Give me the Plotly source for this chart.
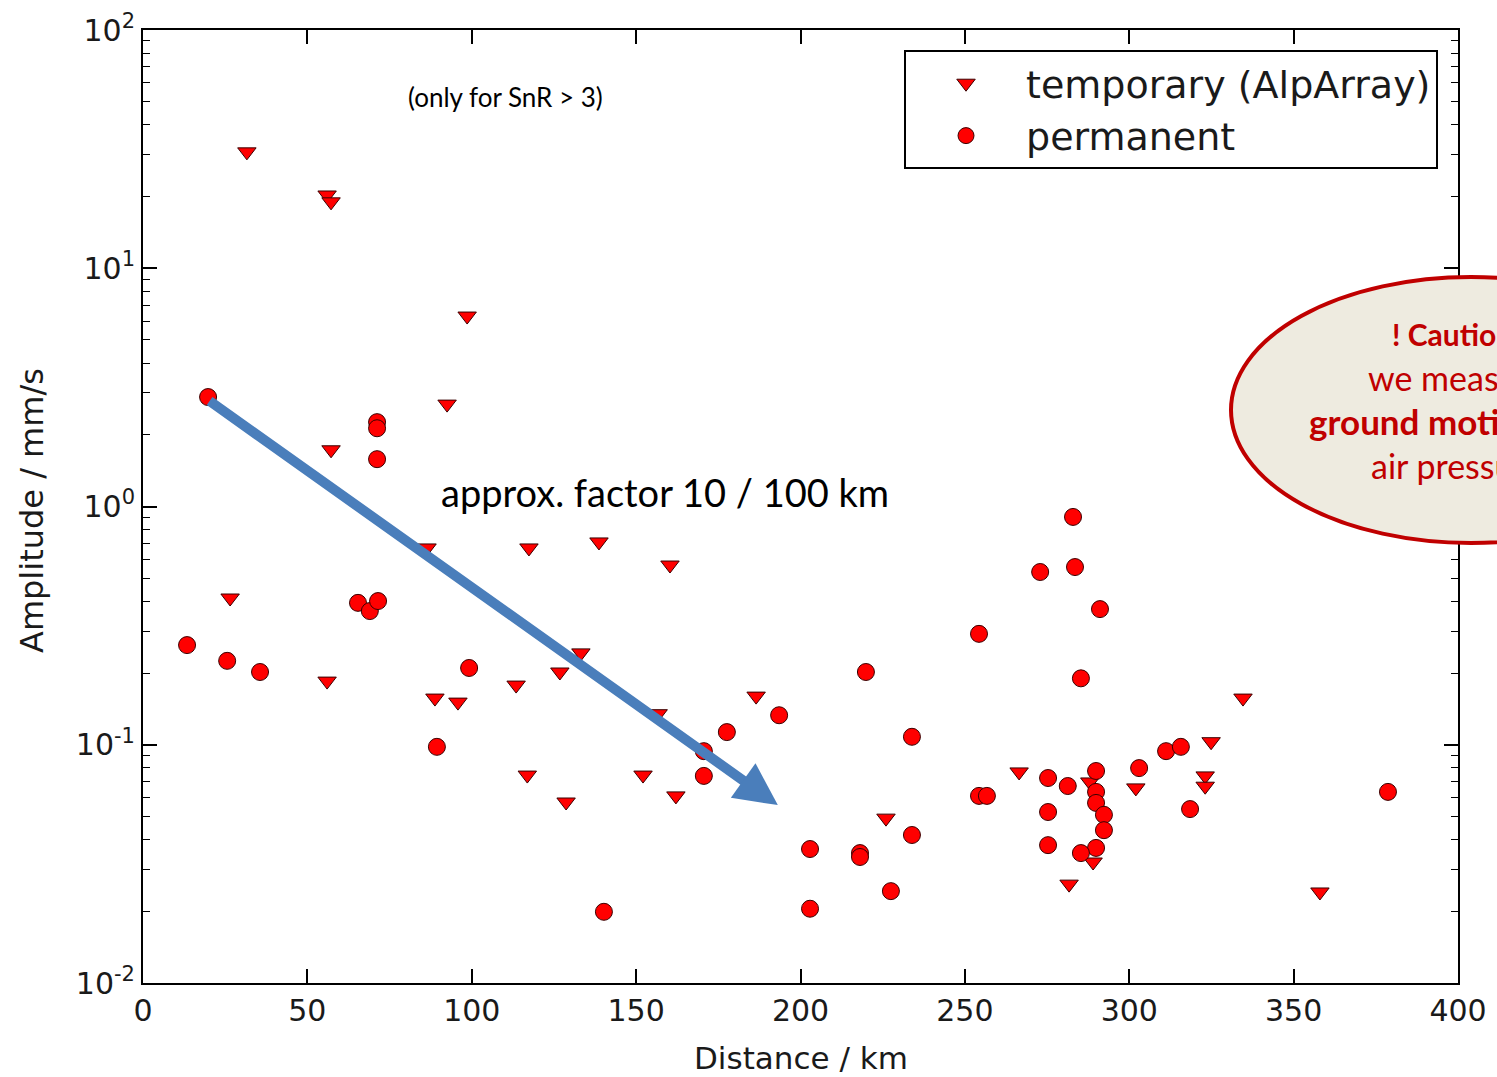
import plotly.graph_objects as go
import math

# temporary (AlpArray) stations: distance [km], amplitude [mm/s]
temp_dist = [31.6, 56.0, 57.2, 98.6, 92.5, 57.2, 86.4, 117.4, 138.7, 160.3,
             26.5, 56.0, 133.2, 126.8, 113.5, 88.8, 95.8, 186.5, 156.7, 116.9,
             128.7, 152.1, 162.1, 226.0, 266.5, 334.6, 324.9, 323.1, 323.1, 302.0,
             281.7, 358.0, 288.0, 289.0]
temp_amp = [30.8, 20.3, 19.0, 6.3, 2.69, 1.73, 0.67, 0.67, 0.71, 0.568,
            0.413, 0.185, 0.243, 0.202, 0.178, 0.157, 0.151, 0.160, 0.135, 0.0746,
            0.0575, 0.0746, 0.061, 0.0492, 0.0769, 0.157, 0.103, 0.074, 0.067, 0.0659,
            0.026, 0.0241, 0.0698, 0.0322]

# permanent stations
perm_dist = [19.8, 71.2, 71.2, 71.2, 13.4, 25.6, 35.6, 65.4, 69.0, 71.5,
             99.2, 89.4, 140.2, 170.6, 170.6, 177.6, 193.5, 202.9, 202.9, 219.9,
             218.1, 218.1, 227.5, 233.9, 233.9, 254.3, 254.3, 256.7, 272.9, 282.9,
             283.5, 291.1, 285.3, 275.3, 281.3, 289.9, 289.9, 289.9, 292.3, 292.3,
             275.3, 275.3, 289.9, 285.3, 303.0, 311.2, 315.7, 318.5, 378.7]
perm_amp = [2.88, 2.26, 2.13, 1.58, 0.262, 0.225, 0.202, 0.394, 0.364, 0.401,
            0.210, 0.098, 0.0199, 0.094, 0.074, 0.113, 0.133, 0.0365, 0.0205, 0.202,
            0.0351, 0.0338, 0.0243, 0.108, 0.0418, 0.292, 0.061, 0.061, 0.531, 0.904,
            0.557, 0.371, 0.190, 0.0725, 0.0671, 0.0776, 0.0634, 0.057, 0.0508, 0.0438,
            0.0522, 0.0379, 0.0369, 0.0351, 0.0798, 0.094, 0.098, 0.0537, 0.0634]

# trend arrow (start -> tip)
arrow_dist = [19.8, 193.1]
arrow_amp = [2.80, 0.0558]

x_ticks = [0, 50, 100, 150, 200, 250, 300, 350, 400]
y_ticks = [0.01, 0.1, 1, 10, 100]
y_ticktext = ["10<sup>-2</sup>", "10<sup>-1</sup>", "10<sup>0</sup>", "10<sup>1</sup>", "10<sup>2</sup>"]
y_minor = [m * 10 ** e for e in range(-2, 2) for m in range(2, 10)]

TICKFONT = dict(family="DejaVu Sans", size=30, color="#1a1a1a")

fig = go.Figure()
fig.add_trace(go.Scatter(
    x=temp_dist, y=temp_amp, mode="markers", name="temporary (AlpArray)",
    marker=dict(symbol="triangle-down", size=16, color="#ff0000",
                line=dict(color="#3a0000", width=1)),
))
fig.add_trace(go.Scatter(
    x=perm_dist, y=perm_amp, mode="markers", name="permanent",
    marker=dict(symbol="circle", size=17, color="#ff0000",
                line=dict(color="#3a0000", width=1)),
))

fig.add_annotation(
    x=arrow_dist[1], y=math.log10(arrow_amp[1]), xref="x", yref="y",
    ax=arrow_dist[0], ay=math.log10(arrow_amp[0]), axref="x", ayref="y",
    text="", showarrow=True, arrowhead=2, arrowsize=0.85, arrowwidth=10,
    arrowcolor="#4a7ebb",
)

def px2paper(px, py):
    return (px - 143) / 1315, (983 - py) / 953

ax_x, ax_y = px2paper(665, 492)
fig.add_annotation(
    x=ax_x, y=ax_y, xref="paper", yref="paper", showarrow=False,
    xanchor="center", yanchor="middle",
    text="approx. factor 10 / 100 km",
    font=dict(family="Lato", size=38, color="#000000"),
)
sn_x, sn_y = px2paper(505, 97)
fig.add_annotation(
    x=sn_x, y=sn_y, xref="paper", yref="paper", showarrow=False,
    xanchor="center", yanchor="middle",
    text="(only for SnR > 3)",
    font=dict(family="Lato", size=26, color="#000000"),
)

# axis titles
xt_x, xt_y = px2paper(801, 1058)
fig.add_annotation(x=xt_x, y=xt_y, xref="paper", yref="paper", showarrow=False,
                   xanchor="center", yanchor="middle", text="Distance / km",
                   font=dict(family="DejaVu Sans", size=31, color="#1a1a1a"))
yt_x, yt_y = px2paper(32, 511)
fig.add_annotation(x=yt_x, y=yt_y, xref="paper", yref="paper", showarrow=False,
                   xanchor="center", yanchor="middle", textangle=-90,
                   text="Amplitude / mm/s",
                   font=dict(family="DejaVu Sans", size=32, color="#1a1a1a"))

# caution bubble (runs off the right edge)
x0, y0 = px2paper(1231, 543)
x1, y1 = px2paper(1711, 277)
fig.add_shape(type="circle", xref="paper", yref="paper", x0=x0, y0=y0, x1=x1, y1=y1,
              fillcolor="#eeebe0", line=dict(color="#c00000", width=4), layer="above")

caution_lines = [("<b>! Caution</b>", 1390, 334, 30), ("we measure", 1366, 377, 34),
                 ("<b>ground motion</b>", 1307, 421, 35), ("air pressure", 1369, 465, 34)]
for txt, px, py, fs in caution_lines:
    cx, cy = px2paper(px, py)
    fig.add_annotation(x=cx, y=cy, xref="paper", yref="paper", xanchor="left",
                       yanchor="middle", showarrow=False, text=txt,
                       font=dict(family="Lato", size=fs, color="#c00000"))

fig.update_xaxes(
    range=[0, 400], tickvals=x_ticks, ticks="inside", ticklen=14, tickwidth=1.5,
    tickcolor="#000", showline=True, linecolor="#000", linewidth=2, mirror="ticks",
    showgrid=False, zeroline=False, tickfont=TICKFONT, automargin=False,
)
fig.update_yaxes(
    type="log", range=[-2, 2], tickvals=y_ticks, ticktext=y_ticktext,
    ticks="inside", ticklen=14, tickwidth=1.5, tickcolor="#000",
    showline=True, linecolor="#000", linewidth=2, mirror="ticks",
    showgrid=False, zeroline=False, tickfont=TICKFONT, automargin=False,
    minor=dict(tickvals=y_minor, ticks="inside", ticklen=7, tickwidth=1.2,
               tickcolor="#000", showgrid=False),
)

fig.update_layout(
    width=1497, height=1077,
    margin=dict(l=143, r=39, t=30, b=94),
    paper_bgcolor="white", plot_bgcolor="white",
    legend=dict(x=0.9848, y=0.979, xanchor="right", yanchor="top",
                bgcolor="white", bordercolor="#000", borderwidth=2,
                font=dict(family="DejaVu Sans", size=38, color="#1a1a1a"),
                itemwidth=110, tracegroupgap=0),
    showlegend=True,
)

fig.write_html("out.html")
